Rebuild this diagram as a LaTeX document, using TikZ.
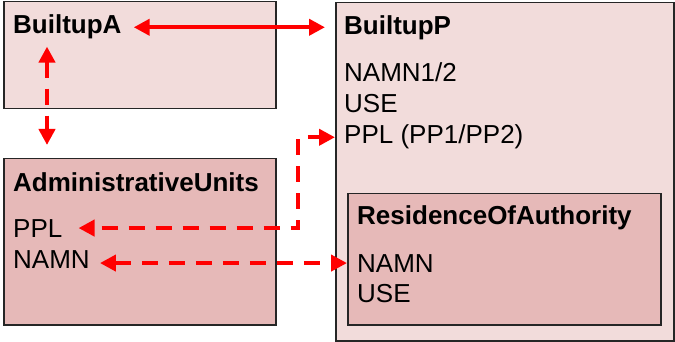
\documentclass[tikz,border=0pt]{standalone}
\usepackage{fontspec}
\setmainfont{Liberation Sans}
\usetikzlibrary{arrows.meta}

\definecolor{lightrose}{HTML}{F2DCDB}
\definecolor{darkrose}{HTML}{E6B9B8}

\begin{document}
\begin{tikzpicture}[x=1pt,y=-1pt,
  lightbox/.style={draw=black!85,line width=1.5pt,fill=lightrose,anchor=north west,inner sep=0pt},
  darkbox/.style={lightbox,fill=darkrose},
  lbl/.style={anchor=base west,inner sep=0pt,font=\fontsize{26}{31}\selectfont},
  ttl/.style={lbl,font=\fontsize{26}{31}\selectfont\bfseries},
  arr/.style={red,line width=4pt,{Triangle[length=16pt,width=16pt]}-{Triangle[length=16pt,width=16pt]}},
  darr/.style={arr,dash pattern=on 16pt off 11pt}]
\useasboundingbox (0,0) rectangle (675,342);

\node[lightbox,minimum width=272pt,minimum height=107pt] (builtupA) at (3,1) {};
\node[darkbox,minimum width=272pt,minimum height=166pt] (admin) at (3,158) {};
\node[lightbox,minimum width=338pt,minimum height=338pt] (builtupP) at (335,2) {};
\node[darkbox,minimum width=313pt,minimum height=131pt] (residence) at (347,193) {};

\node[ttl] (aTitle) at (13,34) {BuiltupA};

\node[ttl] (pTitle) at (344,35) {BuiltupP};
\node[lbl] (pNAMN) at (344,82) {NAMN1/2};
\node[lbl] (pUSE) at (344,113) {USE};
\node[lbl] (pPPL) at (344,144) {PPL (PP1/PP2)};

\node[ttl] (uTitle) at (13,192) {AdministrativeUnits};
\node[lbl] (uPPL) at (13,237) {PPL};
\node[lbl] (uNAMN) at (13,268) {NAMN};

\node[ttl] (rTitle) at (357,225) {ResidenceOfAuthority};
\node[lbl] (rNAMN) at (357,272) {NAMN};
\node[lbl] (rUSE) at (357,302) {USE};

\coordinate (vx) at (47,0);
\path (pPPL.west) ++(-46,0) coordinate (pTurn);

\draw[arr,shorten <=12pt,shorten >=10pt] (aTitle.east) -- (builtupP.west |- aTitle.east);
\draw[darr,shorten <=7pt,shorten >=13pt] (aTitle.south -| vx) -- (admin.north -| vx);
\draw[darr,dash phase=19pt,shorten <=16pt,shorten >=9pt] (uPPL.east) -| (pTurn) -- (pPPL.west);
\draw[darr,shorten <=10pt,shorten >=10pt] (uNAMN.east |- rNAMN.west) -- (rNAMN.west);
\end{tikzpicture}
\end{document}
